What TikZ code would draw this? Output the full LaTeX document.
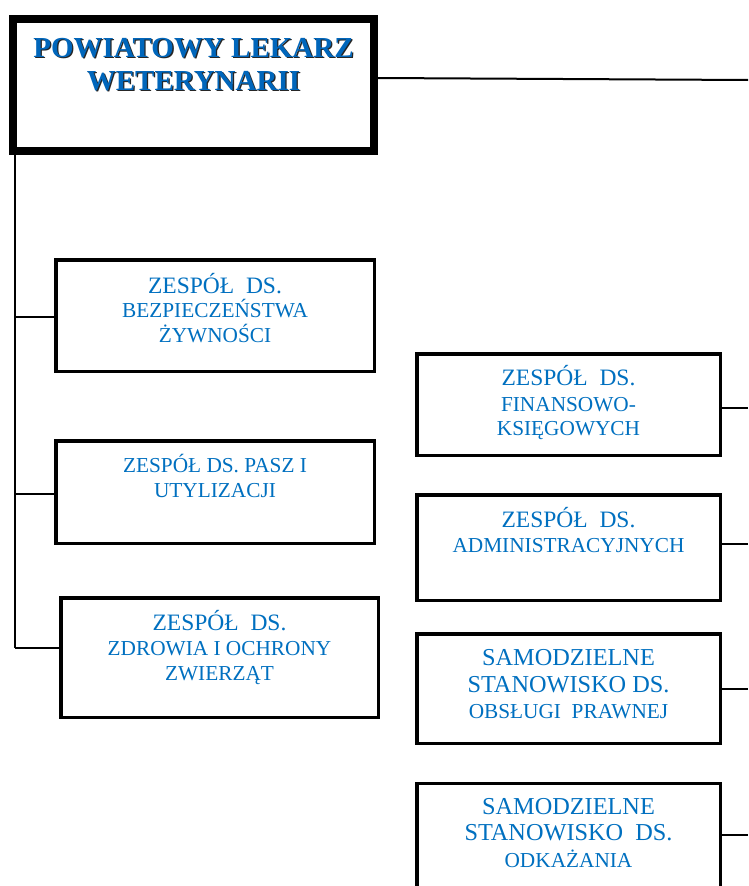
\documentclass[tikz,border=0pt]{standalone}
\usepackage{fontspec}
\setmainfont{Liberation Serif}
\definecolor{txtblue}{RGB}{0,112,192}
\definecolor{ttlblue}{RGB}{0,102,187}
\tikzset{
  box/.style={draw=black, line width=3.5pt, fill=white, inner sep=0pt},
  topbox/.style={draw=black, line width=8pt, fill=white, inner sep=0pt},
  txt/.style={text=txtblue, inner sep=0pt, anchor=base},
  ttl/.style={text=ttlblue, inner sep=0pt, anchor=base, font=\fontsize{29}{29}\selectfont\bfseries},
  shd/.style={text=black!85, inner sep=0pt, anchor=base, font=\fontsize{29}{29}\selectfont\bfseries},
  con/.style={draw=black, line width=2pt},
  big/.style={font=\fontsize{23.5}{23.5}\selectfont},
  bigr/.style={font=\fontsize{24.3}{24.3}\selectfont},
  sml/.style={font=\fontsize{21.3}{21.3}\selectfont},
}
\begin{document}
\begin{tikzpicture}[x=1pt,y=-1pt]
\useasboundingbox (0,0) rectangle (748,886);
\clip (0,0) rectangle (748,886);
\fill[white] (0,0) rectangle (748,886);

% top box
\node[topbox, minimum width=361pt, minimum height=132pt] (top) at (193.5,85) {};
\node[shd] (t1s) at (194.8,58.3) {POWIATOWY LEKARZ};
\node[shd] (t2s) at (194.8,91.3) {WETERYNARII};
\node[ttl] (t1) at (193.5,57) {POWIATOWY LEKARZ};
\node[ttl] (t2) at (193.5,90) {WETERYNARII};

% left boxes
\node[box, minimum width=318.5pt, minimum height=111.5pt] (b1) at (215,315.5) {};
\node[txt,big] (b1a) at (215,293) {ZESPÓŁ\ \ DS.};
\node[txt,sml] (b1b) at (215,317) {BEZPIECZEŃSTWA};
\node[txt,sml] (b1c) at (215,342) {ŻYWNOŚCI};

\node[box, minimum width=318.5pt, minimum height=102.5pt] (b2) at (215,492) {};
\node[txt,sml] (b2a) at (215,472) {ZESPÓŁ DS. PASZ I};
\node[txt,sml] (b2b) at (215,497) {UTYLIZACJI};

\node[box, minimum width=317.5pt, minimum height=119.5pt] (b3) at (219.5,657.5) {};
\node[txt,big] (b3a) at (219.5,630) {ZESPÓŁ\ \ DS.};
\node[txt,sml] (b3b) at (219.5,655) {ZDROWIA I OCHRONY};
\node[txt,sml] (b3c) at (219.5,680) {ZWIERZĄT};

% right boxes
\node[box, minimum width=303.5pt, minimum height=101.5pt] (r1) at (568.5,404.5) {};
\node[txt,big] (r1a) at (568.5,385) {ZESPÓŁ\ \ DS.};
\node[txt,sml] (r1b) at (568.5,411) {FINANSOWO-};
\node[txt,sml] (r1c) at (568.5,435) {KSIĘGOWYCH};

\node[box, minimum width=303.5pt, minimum height=105.5pt] (r2) at (568.5,547.5) {};
\node[txt,big] (r2a) at (568.5,527) {ZESPÓŁ\ \ DS.};
\node[txt,sml] (r2b) at (568.5,552) {ADMINISTRACYJNYCH};

\node[box, minimum width=303.5pt, minimum height=109.5pt] (r3) at (568.5,688.5) {};
\node[txt,bigr] (r3a) at (568.5,665) {SAMODZIELNE};
\node[txt,bigr] (r3b) at (568.5,692) {STANOWISKO DS.};
\node[txt,sml] (r3c) at (568.5,718) {OBSŁUGI\ \ PRAWNEJ};

\node[box, minimum width=303.5pt, minimum height=140pt] (r4) at (568.5,853.5) {};
\node[txt,bigr] (r4a) at (568.5,814) {SAMODZIELNE};
\node[txt,bigr] (r4b) at (568.5,840) {STANOWISKO\ \ DS.};
\node[txt,sml] (r4c) at (568.5,867) {ODKAŻANIA};

% connectors
\coordinate (trunk) at (15,648);
\coordinate (topend) at (748,80);
\draw[con] (top.east |- 0,78) -- (topend);
\draw[con, line width=1.8pt] (top.south -| trunk) -- (trunk);
\coordinate (j1) at (15,317);
\coordinate (j2) at (15,494);
\draw[con] (j1) -- (j1 -| b1.west);
\draw[con] (j2) -- (j2 -| b2.west);
\draw[con] (trunk) -- (trunk -| b3.west);

\coordinate (e1) at (748,408);
\coordinate (e2) at (748,544);
\coordinate (e3) at (748,689);
\coordinate (e4) at (748,835);
\draw[con] (e1 -| r1.east) -- (e1);
\draw[con] (e2 -| r2.east) -- (e2);
\draw[con] (e3 -| r3.east) -- (e3);
\draw[con] (e4 -| r4.east) -- (e4);
\end{tikzpicture}
\end{document}
